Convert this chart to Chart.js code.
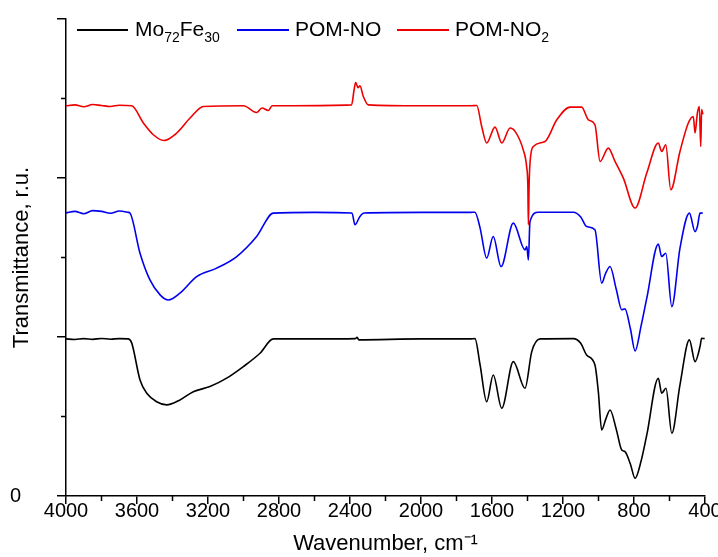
<!DOCTYPE html>
<html>
<head>
<meta charset="utf-8">
<script src="https://cdn.jsdelivr.net/npm/chart.js@4"></script>
<style>
  body { margin: 0; background: #fff; }
  #wrap { position: relative; width: 718px; height: 557px; }
  .leg { position: absolute; font: 21px "Liberation Sans", Arial, sans-serif; color: #000; white-space: nowrap; line-height: 24px; }
  .leg sub { font-size: 14px; vertical-align: -6px; line-height: 0; }
  .sw { position: absolute; height: 2px; }
</style>
</head>
<body>
<div id="wrap">
  <canvas id="irChart" width="718" height="557"></canvas>
  <div class="sw" style="left:77px;top:29px;width:51px;background:#000"></div>
  <div class="leg" style="left:135px;top:17px">Mo<sub>72</sub>Fe<sub>30</sub></div>
  <div class="sw" style="left:237px;top:29px;width:52px;background:#0000ee"></div>
  <div class="leg" style="left:295px;top:17px">POM-NO</div>
  <div class="sw" style="left:397px;top:29px;width:52px;background:#ee0000"></div>
  <div class="leg" style="left:455px;top:17px">POM-NO<sub>2</sub></div>
</div>
<script>
// wavenumber (cm-1) / transmittance (offset, r.u.)
const moFeX = [4000, 3950, 3900, 3850, 3800, 3750, 3700, 3649, 3630, 3583, 3545, 3489, 3433, 3358, 3283, 3189, 3095, 3001, 2907, 2832,
  2600, 2370, 2360, 2350, 2000, 1720, 1696, 1667, 1630, 1593, 1545, 1480, 1414, 1376, 1329, 1142, 1100, 1067, 1020, 1001, 982,
  960, 935, 900, 869, 851, 820, 794, 760, 728, 663, 644, 620, 587, 541, 488, 456, 428, 419, 402];
const moFeY = [0.988, 0.984, 0.99, 0.985, 0.991, 0.986, 0.99, 0.988, 0.963, 0.730, 0.646, 0.593, 0.573, 0.604, 0.656, 0.688, 0.741, 0.814, 0.898, 0.988,
  0.988, 0.99, 0.998, 0.982, 0.988, 0.988, 0.99, 0.824, 0.593, 0.761, 0.552, 0.845, 0.678, 0.908, 0.988, 0.99, 0.96, 0.887, 0.824, 0.656, 0.415,
  0.48, 0.541, 0.42, 0.289, 0.279, 0.2, 0.111, 0.22, 0.384, 0.741, 0.646, 0.678, 0.395, 0.699, 0.982, 0.845, 0.94, 0.992, 0.99];

const pomNoX = [4000, 3950, 3900, 3850, 3800, 3750, 3700, 3649, 3639, 3583, 3527, 3470, 3424, 3358, 3264, 3151, 3038, 2926, 2832,
  2600, 2389, 2372, 2344, 2321, 2000, 1720, 1696, 1667, 1630, 1593, 1549, 1480, 1414, 1404, 1395, 1386, 1339, 1142, 1100, 1067, 1020, 982,
  960, 935, 900, 869, 851, 820, 794, 760, 728, 663, 644, 621, 587, 541, 488, 456, 443, 428, 412];
const pomNoY = [1.78, 1.79, 1.775, 1.795, 1.79, 1.778, 1.792, 1.784, 1.779, 1.527, 1.359, 1.265, 1.233, 1.276, 1.38, 1.433, 1.506, 1.632, 1.779,
  1.784, 1.78, 1.706, 1.758, 1.78, 1.784, 1.784, 1.785, 1.685, 1.496, 1.632, 1.443, 1.716, 1.548, 1.569, 1.485, 1.726, 1.785, 1.785, 1.755, 1.695, 1.674, 1.339,
  1.4, 1.443, 1.3, 1.171, 1.177, 1.05, 0.913, 1.07, 1.244, 1.584, 1.506, 1.527, 1.191, 1.559, 1.779, 1.663, 1.695, 1.779, 1.78];

const pomNo2X = [4000, 3950, 3900, 3850, 3800, 3750, 3700, 3630, 3564, 3508, 3448, 3376, 3301, 3226, 3000, 2926, 2896, 2860, 2839,
  2391, 2377, 2368, 2355, 2344, 2325, 2297, 2000, 1720, 1686, 1658, 1630, 1583, 1545, 1498, 1470, 1424, 1405, 1398, 1395, 1391, 1386, 1367,
  1301, 1235, 1160, 1095, 1057, 1020, 991, 945, 907, 860, 794, 728, 663, 644, 621, 593, 541, 494, 466, 456, 443, 432, 424, 419, 412];
const pomNo2Y = [2.454, 2.46, 2.448, 2.462, 2.456, 2.45, 2.458, 2.454, 2.346, 2.272, 2.236, 2.283, 2.377, 2.45, 2.454, 2.412, 2.44, 2.425, 2.454,
  2.46, 2.555, 2.601, 2.568, 2.58, 2.513, 2.46, 2.454, 2.454, 2.456, 2.324, 2.22, 2.32, 2.22, 2.314, 2.293, 2.177, 2.072, 1.95, 1.705, 1.95, 2.094, 2.198,
  2.23, 2.366, 2.446, 2.446, 2.366, 2.335, 2.104, 2.188, 2.104, 1.999, 1.811, 2.031, 2.22, 2.167, 2.209, 1.926, 2.167, 2.346, 2.387, 2.283, 2.408, 2.45, 2.198, 2.43, 2.40];

const xMajor = [4000, 3600, 3200, 2800, 2400, 2000, 1600, 1200, 800, 400];
const xMinor = [3800, 3400, 3000, 2600, 2200, 1800, 1400, 1000, 600];
const yMinor = [0.5, 1.5, 2.5];

const toPts = (xs, ys) => xs.map((x, i) => ({ x: x, y: ys[i] }));

const minorTicks = {
  id: 'minorTicks',
  afterDraw(chart) {
    const { ctx, scales: { x, y } } = chart;
    ctx.save();
    ctx.strokeStyle = '#000';
    ctx.lineWidth = 1.5;
    ctx.beginPath();
    xMinor.forEach(v => {
      const px = x.getPixelForValue(v);
      ctx.moveTo(px, x.top);
      ctx.lineTo(px, x.top + 5);
    });
    yMinor.forEach(v => {
      const py = y.getPixelForValue(v);
      ctx.moveTo(y.right, py);
      ctx.lineTo(y.right - 5, py);
    });
    ctx.stroke();
    ctx.restore();
  }
};

Chart.defaults.font.family = '"Liberation Sans", Arial, sans-serif';
Chart.defaults.color = '#000';

const ctx = document.getElementById('irChart').getContext('2d');
const irChart = new Chart(ctx, {
  type: 'line',
  data: {
    datasets: [
      { label: 'Mo72Fe30', data: toPts(moFeX, moFeY), borderColor: '#000000' },
      { label: 'POM-NO', data: toPts(pomNoX, pomNoY), borderColor: '#0000ee' },
      { label: 'POM-NO2', data: toPts(pomNo2X, pomNo2Y), borderColor: '#ee0000' }
    ]
  },
  options: {
    responsive: false,
    animation: false,
    layout: { padding: { top: 19, right: 13, left: 0, bottom: 0 } },
    elements: {
      point: { radius: 0 },
      line: { borderWidth: 1.6, cubicInterpolationMode: 'monotone' }
    },
    plugins: { legend: { display: false }, tooltip: { enabled: false } },
    scales: {
      x: {
        type: 'linear',
        reverse: true,
        min: 400,
        max: 4000,
        afterBuildTicks: s => { s.ticks = xMajor.map(v => ({ value: v })); },
        afterFit: s => { s.height = 61; s.paddingLeft = 0; s.paddingRight = 0; },
        ticks: { font: { size: 20 }, padding: -5, maxRotation: 0, callback: v => String(v) },
        grid: { display: true, drawOnChartArea: false, drawTicks: true, tickLength: 8, color: '#000', lineWidth: 1.5 },
        border: { display: true, color: '#000', width: 1.5 },
        title: { display: true, text: 'Wavenumber, cm⁻¹', font: { size: 22 }, padding: 0 }
      },
      y: {
        min: 0,
        max: 3,
        ticks: { stepSize: 1, font: { size: 20 }, padding: 36, callback: v => (v === 0 ? '0' : '') },
        afterFit: s => { s.width = 66; s.paddingTop = 0; s.paddingBottom = 0; },
        grid: { display: true, drawOnChartArea: false, drawTicks: true, tickLength: 9, color: '#000', lineWidth: 1.5 },
        border: { display: true, color: '#000', width: 1.5 },
        title: { display: true, text: 'Transmittance, r.u.', font: { size: 22 }, padding: { top: 9, bottom: 0 } }
      }
    }
  },
  plugins: [minorTicks]
});
</script>
</body>
</html>
